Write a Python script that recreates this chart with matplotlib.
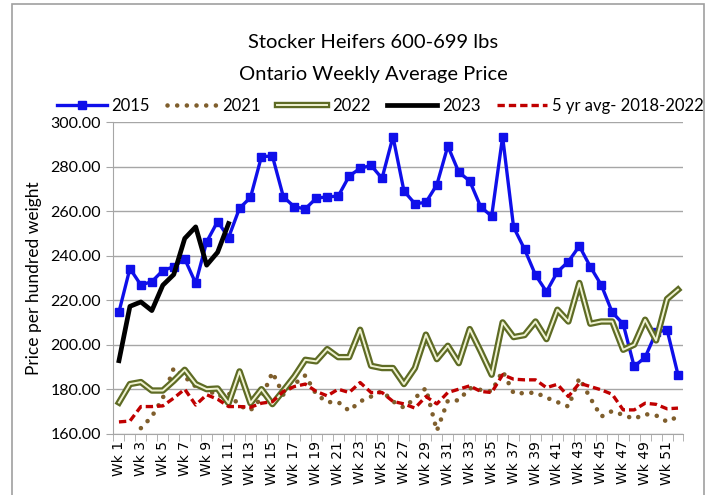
import numpy as np
import matplotlib
matplotlib.use("Agg")
import matplotlib.pyplot as plt
import matplotlib.patheffects as pe
from matplotlib.patches import Rectangle

nan = np.nan

weeks = ["Wk %d" % i for i in range(1, 53)]

y2015 = [214.7, 234.2, 226.8, 228.3, 233.3, 235.0, 238.5, 227.6, 246.2, 255.3,
         248.1, 261.3, 266.1, 284.5, 284.7, 266.4, 261.9, 261.0, 265.8, 266.4,
         266.7, 275.7, 279.2, 280.5, 274.7, 293.4, 269.0, 263.3, 263.9, 271.8,
         289.2, 277.5, 273.5, 261.9, 257.7, 293.4, 252.8, 242.9, 231.3, 223.8,
         232.7, 237.3, 244.3, 235.0, 226.8, 214.5, 209.3, 190.2, 194.3, 205.5,
         206.7, 186.5]

y2021 = [nan, nan, 162.5, 167.7, 176.0, 189.5, 185.5, 181.2, 180.3, 176.7,
         178.2, 172.6, 170.5, 176.0, 187.6, 177.5, 182.3, 186.2, 177.7, 174.2,
         174.2, 170.3, 174.5, 176.7, 179.2, 174.5, 171.7, 176.0, 180.5, 161.3,
         174.8, 175.0, 180.5, 179.7, 179.0, 188.2, 178.2, 178.2, 178.5, 176.2,
         174.2, 172.2, 185.0, 176.0, 167.7, 170.2, 168.4, 166.7, 168.8, 168.2,
         165.4, 167.7]

y2022 = [174.0, 182.3, 183.2, 179.4, 179.4, 183.8, 188.7, 182.3, 180.0, 180.3,
         173.7, 188.0, 173.7, 180.0, 173.3, 179.4, 185.7, 193.2, 192.5, 198.0,
         194.4, 194.4, 206.7, 190.5, 189.5, 189.5, 182.3, 189.5, 204.5, 193.5,
         199.5, 191.7, 207.0, 197.0, 186.5, 210.0, 203.4, 204.3, 210.4, 202.5,
         215.7, 210.4, 227.7, 209.4, 210.4, 210.4, 197.7, 200.0, 211.2, 201.9,
         220.5, 224.7]

y2023 = [192.8, 217.2, 219.2, 215.3, 226.7, 231.5, 247.7, 252.9, 235.7, 241.5,
         254.4]

y_avg = [165.3, 165.7, 172.2, 172.2, 172.5, 176.0, 180.0, 172.9, 177.5, 175.5,
         172.2, 172.2, 171.9, 173.7, 174.4, 179.0, 181.2, 182.3, 179.0, 177.0,
         180.0, 178.5, 183.0, 178.5, 178.5, 174.5, 173.4, 171.5, 176.7, 173.4,
         178.5, 180.0, 181.5, 179.0, 178.5, 186.5, 184.5, 184.2, 184.2, 180.7,
         182.2, 176.7, 182.7, 181.2, 179.7, 177.7, 170.7, 170.7, 173.7, 173.2,
         171.2, 171.5]

x = np.arange(len(weeks))

fig = plt.figure(figsize=(7.11, 4.95), dpi=100)
ax = fig.add_axes([0.1596, 0.1238, 0.8017, 0.6297])

ax.plot(x, y2015, color="#0F0FEA", lw=2.4, marker="s", ms=6, label="2015")
ax.plot(x, y2021, color="#7F5E2C", lw=3.3, dashes=(0.01, 2.1),
        dash_capstyle="round", label="2021")
ax.plot(x, y2022, color="#F0F3D2", lw=1.4, label="2022",
        path_effects=[pe.Stroke(linewidth=4.6, foreground="#5E6B24"), pe.Normal()])
ax.plot(x[:len(y2023)], y2023, color="black", lw=3.4, label="2023")
ax.plot(x, y_avg, color="#C00000", lw=2.4, dashes=(2.2, 1.2),
        label="5 yr avg- 2018-2022")

ax.set_xlim(-0.5, len(weeks) - 0.5)
ax.set_ylim(160, 300)
ax.set_yticks(np.arange(160, 301, 20))
ax.set_yticklabels(["%.2f" % v for v in np.arange(160, 301, 20)],
                   fontsize=11.5, family="Lato")
ax.yaxis.grid(True, color="#A6A6A6", lw=1)
ax.set_axisbelow(True)

ax.set_xticks(x[::2])
ax.set_xticklabels(weeks[::2], rotation=90, fontsize=10, family="DejaVu Sans")
ax.set_xticks(np.arange(-0.5, len(weeks), 1), minor=True)
ax.tick_params(axis="x", which="major", length=0, pad=5)
ax.tick_params(axis="x", which="minor", length=5, color="#A6A6A6", direction="out")
ax.tick_params(axis="y", length=5, color="#A6A6A6", pad=4)

for s in ["top", "right"]:
    ax.spines[s].set_visible(False)
ax.spines["left"].set_color("#A6A6A6")
ax.spines["bottom"].set_color("#A6A6A6")

ax.set_ylabel("Price per hundred weight", fontsize=12.5, family="Lato", labelpad=6)

fig.text(0.525, 0.915, "Stocker Heifers 600-699 lbs", ha="center", va="center",
         fontsize=14.5, family="Lato")
fig.text(0.525, 0.85, "Ontario Weekly Average Price", ha="center", va="center",
         fontsize=14.5, family="Lato")

fig.legend(loc="center", bbox_to_anchor=(0.535, 0.786), ncol=5, frameon=False,
           handlelength=3.0, handletextpad=0.3, columnspacing=1.0,
           prop={"family": "Lato", "size": 12})

fig.patches.append(Rectangle((12 / 711, -0.01), 692 / 711, 1 - 4 / 495 + 0.01,
                             transform=fig.transFigure, fill=False,
                             edgecolor="#A0A0A0", lw=1.2))

fig.savefig("out.png", dpi=100)
